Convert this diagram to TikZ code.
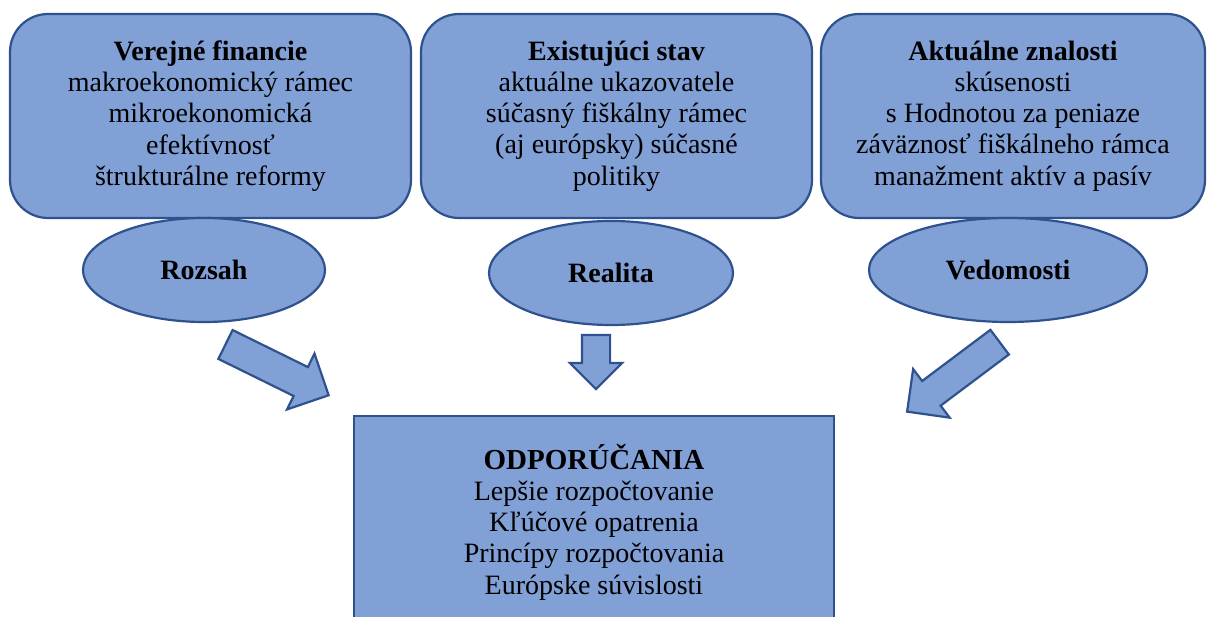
\documentclass[tikz,border=0pt]{standalone}
\usepackage{fontspec}
\setmainfont{Liberation Serif}
\usetikzlibrary{shapes.geometric,shapes.arrows}
\definecolor{boxfill}{RGB}{129,160,214}
\definecolor{boxline}{RGB}{47,82,143}

\begin{document}
\begin{tikzpicture}[x=1pt,y=-1pt,
  every node/.style={font=\fontsize{28}{31.2}\selectfont},
  topbox/.style={draw=boxline,fill=boxfill,line width=2.2pt,rounded corners=38pt,
    minimum height=204pt,align=center,inner sep=0pt},
  oval/.style={ellipse,draw=boxline,fill=boxfill,line width=2.2pt,minimum height=104pt,
    inner sep=0pt,font=\fontsize{28}{31.2}\selectfont\bfseries},
  bigarrow/.style={single arrow,draw=boxline,fill=boxfill,line width=2.2pt,inner xsep=0pt,
    anchor=tail,single arrow head indent=0pt}]
  \clip (0,0) rectangle (1208,617);
  \coordinate (A) at (210.5,116);
  \coordinate (B) at (616.5,116);
  \coordinate (C) at (1013,116);
  \coordinate (D) at (594,415);
  \node[topbox,minimum width=401pt] (verejne) at (A) {\textbf{Verejné financie}\\makroekonomický rámec\\mikroekonomická\\efektívnosť\\štrukturálne reformy};
  \node[topbox,minimum width=391pt] (stav) at (B) {\textbf{Existujúci stav}\\aktuálne ukazovatele\\súčasný fiškálny rámec\\(aj európsky) súčasné\\politiky};
  \node[topbox,minimum width=384pt] (znalosti) at (C) {\textbf{Aktuálne znalosti}\\skúsenosti\\s Hodnotou za peniaze\\záväznosť fiškálneho rámca\\manažment aktív a pasív};
  \node[oval,minimum width=242pt] (rozsah) at (204,270) {Rozsah};
  \node[oval,minimum width=244pt] (realita) at (611,273) {Realita};
  \node[oval,minimum width=278pt] (vedomosti) at (1008,270) {Vedomosti};
  \node[bigarrow,minimum height=115pt,inner ysep=15pt,single arrow head extend=15pt,rotate=-26.2] (sipkaA) at (224.5,344) {};
  \node[bigarrow,minimum height=54pt,inner ysep=13pt,single arrow head extend=12pt,rotate=-90] (sipkaB) at (596,334) {};
  \node[bigarrow,minimum height=115.7pt,inner ysep=14.3pt,single arrow head extend=15pt,rotate=216.9] (sipkaC) at (1000.5,341.5) {};
  \node[draw=boxline,fill=boxfill,line width=2.2pt,minimum width=480pt,minimum height=212pt,
    anchor=north,align=center,inner sep=0pt] (odporucania) at (D)
    {{\fontsize{29}{32}\selectfont\bfseries ODPORÚČANIA}\\Lepšie rozpočtovanie\\Kľúčové opatrenia\\Princípy rozpočtovania\\Európske súvislosti};
\end{tikzpicture}
\end{document}
